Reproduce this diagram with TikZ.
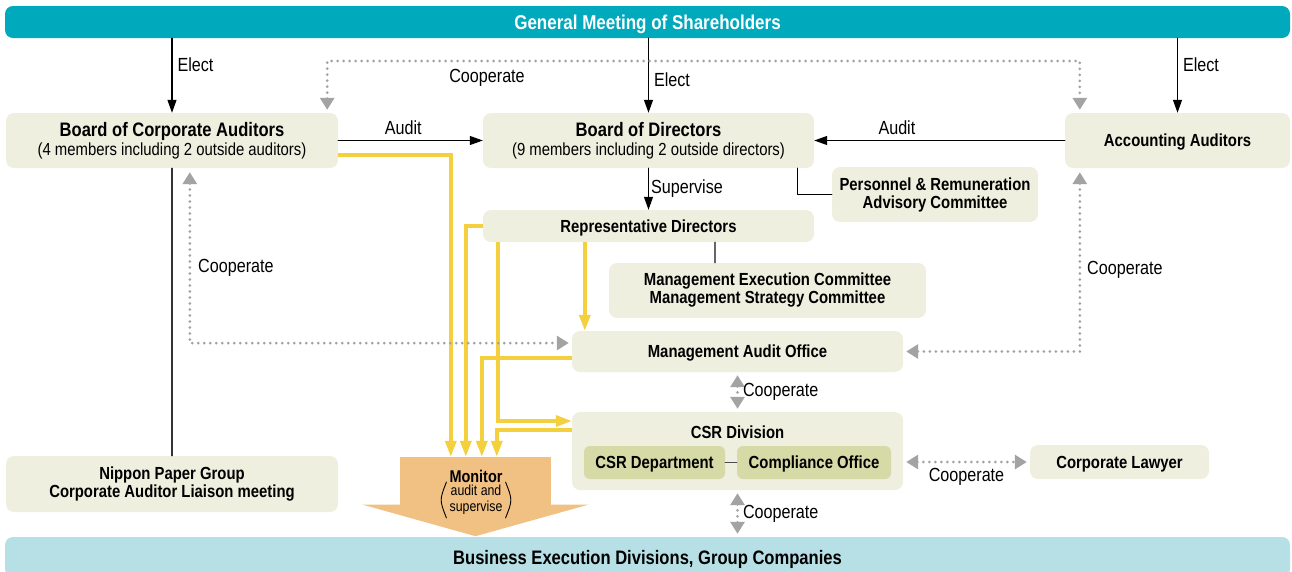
\documentclass[tikz,border=0pt]{standalone}
\usepackage{fontspec}
\setmainfont{Liberation Sans}[FakeStretch=0.85]
\usepackage{tikz}
\usetikzlibrary{arrows.meta}
\definecolor{gmteal}{RGB}{0,169,188}
\definecolor{boxbeige}{RGB}{238,239,222}
\definecolor{innergreen}{RGB}{214,218,166}
\definecolor{monyellow}{RGB}{245,208,62}
\definecolor{monorange}{RGB}{241,192,131}
\definecolor{bizblue}{RGB}{183,224,230}
\definecolor{coopgray}{RGB}{163,163,163}
\newcommand{\titlefont}{\fontsize{19.5}{20}\selectfont\bfseries}
\newcommand{\boxfont}{\fontsize{17.5}{18}\selectfont\bfseries}
\newcommand{\subfont}{\fontsize{17.5}{20}\selectfont\mdseries}
\newcommand{\lblfont}{\fontsize{19}{20}\selectfont}

\begin{document}
\begin{tikzpicture}[line cap=round,line join=round,>={Triangle[length=13pt,width=9pt]},x=1pt,y=-1pt,
  box/.style={fill=boxbeige,rounded corners=8pt,align=center,inner sep=0pt,font=\boxfont},
  single/.style={text height=12.5pt,text depth=0pt},
  inner/.style={fill=innergreen,rounded corners=6pt,inner sep=0pt,font=\boxfont,single},
  link/.style={draw=black,line width=1.1pt},
  yel/.style={draw=monyellow,line width=3.5pt,line cap=butt,line join=miter,-{Triangle[length=16pt,width=11pt]}},
  coop/.style={draw=coopgray,line width=3pt,dash pattern=on 0pt off 6pt,{Triangle[length=12pt,width=14pt]}-{Triangle[length=12pt,width=14pt]}},
  lbl/.style={font=\lblfont,inner sep=2pt}]
\useasboundingbox (0,0) rectangle (1292,571);
\node[fill=gmteal,rounded corners=8pt,minimum width=1285pt,minimum height=32pt,inner sep=0pt,text=white,font=\fontsize{20}{22}\selectfont\bfseries,text height=14pt,text depth=0pt] (gm) at (647.5,22) {General Meeting of Shareholders};
\node[box,minimum width=332pt,minimum height=55pt] (bca) at (172,140.5) {{\titlefont Board of Corporate Auditors}\\[1pt]{\subfont (4 members including 2 outside auditors)}};
\node[box,minimum width=331pt,minimum height=55pt] (bod) at (648.5,140.5) {{\titlefont Board of Directors}\\[1pt]{\subfont (9 members including 2 outside directors)}};
\node[box,single,minimum width=225pt,minimum height=55pt] (aa) at (1177.5,140.5) {Accounting Auditors};
\node[box,minimum width=206pt,minimum height=55pt] (prac) at (935,194.5) {Personnel \& Remuneration\\Advisory Committee};
\node[box,single,minimum width=331pt,minimum height=32pt] (rep) at (648.5,226) {Representative Directors};
\node[box,minimum width=317pt,minimum height=55pt] (mec) at (767.5,290.5) {Management Execution Committee\\Management Strategy Committee};
\node[box,single,minimum width=331pt,minimum height=41pt] (mao) at (737.5,351.5) {Management Audit Office};
\node[box,minimum width=331pt,minimum height=78pt] (csr) at (737.5,451) {};
\node[font=\boxfont,single] (csrlbl) at (737.5,432) {CSR Division};
\node[inner,minimum width=141pt,minimum height=33pt] (dept) at (654.5,462.5) {CSR Department};
\node[inner,minimum width=154pt,minimum height=33pt] (comp) at (814,462.5) {Compliance Office};
\node[box,single,minimum width=179pt,minimum height=34pt] (law) at (1119.5,462) {Corporate Lawyer};
\node[box,minimum width=332pt,minimum height=56pt] (npg) at (172,484) {Nippon Paper Group\\Corporate Auditor Liaison meeting};
\node[fill=monorange,minimum width=151pt,minimum height=48pt,inner sep=0pt] (mon) at (475.5,481) {};
\fill[monorange] ([xshift=-37pt,yshift=0.5pt]mon.south west) -- ([xshift=37pt,yshift=0.5pt]mon.south east) -- ([yshift=-31pt]mon.south) -- cycle;
\node[font=\fontsize{17}{18}\selectfont\bfseries,single,inner sep=0pt] (montxt) at (476,476) {Monitor};
\node[font=\fontsize{14.5}{16}\selectfont,align=center,inner sep=3pt] (monsub) at (476,500) {audit and\\supervise};
\draw[line width=0.9pt] (monsub.north west) .. controls ([xshift=-7pt]monsub.west) .. (monsub.south west);
\draw[line width=0.9pt] (monsub.north east) .. controls ([xshift=7pt]monsub.east) .. (monsub.south east);
\node[fill=bizblue,rounded corners=8pt,minimum width=1285pt,minimum height=40pt,inner sep=0pt,font=\titlefont,text height=14pt,text depth=0pt] (bed) at (647.5,557) {Business Execution Divisions, Group Companies};

\draw[link,->] (bca.north |- gm.south) -- (bca.north) node[lbl,right,pos=0.36,xshift=3pt] (lelect1) {Elect};
\draw[link,->] (bod.north |- gm.south) -- (bod.north) node[lbl,right,pos=0.55,xshift=3pt] (lelect2) {Elect};
\draw[link,->] (aa.north |- gm.south) -- (aa.north) node[lbl,right,pos=0.35,xshift=3pt] (lelect3) {Elect};
\draw[link,->] (bca.east) -- (bod.west) node[lbl,above,pos=0.45,yshift=3pt] (laudit1) {Audit};
\draw[link,->] (aa.west) -- (bod.east) node[lbl,above,pos=0.67,yshift=3pt] (laudit2) {Audit};
\draw[link,->] (bod.south) -- (rep.north) node[lbl,right,midway] (lsup) {Supervise};
\draw[link] ([xshift=-17pt]bod.south east) |- (prac.west);
\coordinate (mectop) at ([xshift=-52.5pt]mec.north);
\draw[link,draw=black!60] (mectop) -- (mectop |- rep.south);
\draw[link,draw=black!80] (bca.south) -- (npg.north);
\draw[link,draw=black!70] (dept.east) -- (comp.west);

\draw[yel] ([yshift=-14.5pt]bca.east) -| ([xshift=51pt]mon.north west);
\draw[yel] (rep.west) -| ([xshift=66pt]mon.north west);
\draw[yel] ([yshift=-6.5pt]mao.west) -| ([xshift=82pt]mon.north west);
\draw[yel] ([xshift=15pt]rep.south west) |- ([yshift=30pt]csr.west);
\draw[yel] ([yshift=21pt]csr.west) -| ([xshift=97pt]mon.north west);
\coordinate (repdown) at ([xshift=102pt]rep.south west);
\draw[yel] (repdown) -- (repdown |- mao.north);

\coordinate (cooptop) at (648,61);
\draw[coop] ([xshift=-11pt,yshift=3pt]bca.north east) |- (cooptop) -| ([xshift=15pt,yshift=3pt]aa.north west);
\node[lbl] (lcoop1) at (487,78) {Cooperate};
\draw[coop] ([xshift=184pt,yshift=-4pt]bca.south west) |- ([xshift=-3pt,yshift=8.5pt]mao.west);
\node[lbl,anchor=west] (lcoop2) at (196,268) {Cooperate};
\draw[coop] ([xshift=15pt,yshift=-4pt]aa.south west) |- ([xshift=3pt]mao.east);
\node[lbl,anchor=west] (lcoop3) at (1085,270) {Cooperate};
\draw[coop] ([yshift=-3pt]mao.south) -- ([yshift=3pt]csr.north) node[lbl,right,midway,xshift=2pt] (lcoop4) {Cooperate};
\coordinate (bedtop) at (csr.south |- bed.north);
\draw[coop] ([yshift=-3pt]csr.south) -- ([yshift=3pt]bedtop) node[lbl,right,midway,xshift=2pt] (lcoop5) {Cooperate};
\coordinate (csrlaw) at (csr.east |- law.west);
\draw[coop] ([xshift=3pt]csrlaw) -- ([xshift=-3pt]law.west) node[lbl,below,midway,yshift=-3pt] (lcoop6) {Cooperate};
\end{tikzpicture}
\end{document}
